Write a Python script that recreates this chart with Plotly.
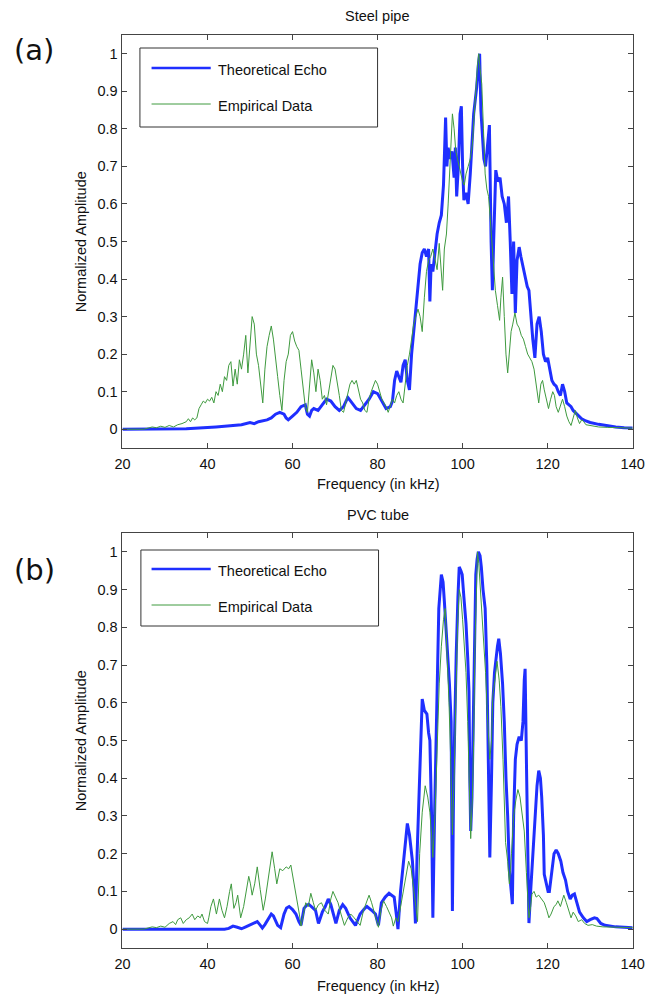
import plotly.graph_objects as go

# ---------------- DATA ----------------
# (a) Steel pipe
steel_theo_f = [20, 30, 35, 38, 40, 42, 44, 46, 48, 50, 51, 52, 53, 54, 55, 56, 57, 58, 58.5, 59, 60, 61, 62, 63, 63.5, 64, 64.5, 65, 66, 67, 68, 69, 70, 71, 72, 73, 74, 75, 76, 77, 78, 79, 80, 81, 82, 83, 83.5, 84, 84.5, 85, 85.5, 86, 86.5, 87, 87.5, 88, 88.5, 89, 89.5, 90, 90.5, 91, 91.5, 92, 92.3, 92.6, 93, 93.5, 94, 94.5, 95, 95.5, 96, 96.3, 96.6, 97, 97.5, 98, 98.3, 98.6, 99, 99.4, 99.7, 100, 100.3, 100.8, 101.3, 101.8, 102.3, 102.6, 103, 103.3, 103.7, 104, 104.3, 104.6, 105, 105.4, 105.8, 106.3, 106.7, 107, 107.3, 107.8, 108.3, 108.8, 109.3, 109.8, 110.3, 110.8, 111.2, 111.6, 112, 112.4, 112.8, 113.3, 113.7, 114.2, 114.7, 115.2, 115.6, 116, 116.5, 117, 117.5, 118, 118.5, 119, 119.5, 120, 120.5, 121, 121.5, 122, 122.5, 123, 123.5, 124, 124.5, 125, 125.5, 126, 127, 128, 129, 130, 132, 134, 136, 138, 140]
steel_theo_v = [0, 0, 0.001, 0.003, 0.004, 0.006, 0.008, 0.01, 0.012, 0.018, 0.015, 0.02, 0.022, 0.025, 0.03, 0.04, 0.045, 0.04, 0.03, 0.025, 0.035, 0.045, 0.06, 0.065, 0.04, 0.035, 0.05, 0.055, 0.05, 0.065, 0.08, 0.075, 0.06, 0.05, 0.06, 0.085, 0.07, 0.055, 0.05, 0.065, 0.08, 0.1, 0.095, 0.075, 0.055, 0.06, 0.075, 0.13, 0.155, 0.14, 0.125, 0.17, 0.185, 0.13, 0.105, 0.2, 0.26, 0.3, 0.37, 0.44, 0.47, 0.48, 0.46, 0.48, 0.34, 0.44, 0.42, 0.47, 0.52, 0.55, 0.57, 0.65, 0.83, 0.7, 0.75, 0.72, 0.74, 0.67, 0.75, 0.62, 0.7, 0.84, 0.86, 0.7, 0.61, 0.63, 0.6, 0.68, 0.78, 0.84, 0.88, 0.91, 0.97, 1.0, 0.85, 0.8, 0.72, 0.7, 0.76, 0.81, 0.5, 0.37, 0.5, 0.69, 0.66, 0.67, 0.62, 0.6, 0.55, 0.62, 0.5, 0.36, 0.5, 0.31, 0.45, 0.485, 0.46, 0.43, 0.4, 0.38, 0.37, 0.3, 0.24, 0.19, 0.28, 0.3, 0.26, 0.2, 0.18, 0.19, 0.16, 0.13, 0.12, 0.115, 0.1, 0.09, 0.12, 0.1, 0.07, 0.065, 0.06, 0.05, 0.04, 0.028, 0.022, 0.018, 0.013, 0.009, 0.006, 0.004, 0.003]

steel_emp_f = [20, 25, 26, 27, 28, 29, 30, 31, 32, 33, 34, 35, 35.5, 36, 36.5, 37, 37.5, 38, 38.5, 39, 39.5, 40, 40.5, 41, 41.5, 42, 42.5, 43, 43.5, 44, 44.5, 45, 45.5, 46, 46.5, 47, 47.5, 48, 48.5, 49, 49.5, 50, 50.5, 51, 51.5, 52, 52.5, 53, 53.5, 54, 54.5, 55, 55.5, 56, 56.5, 57, 57.5, 58, 58.5, 59, 59.5, 60, 60.5, 61, 61.5, 62, 62.5, 63, 63.5, 64, 64.5, 65, 65.5, 66, 66.5, 67, 67.5, 68, 68.5, 69, 69.5, 70, 70.5, 71, 71.5, 72, 72.5, 73, 73.5, 74, 74.5, 75, 75.5, 76, 76.5, 77, 77.5, 78, 78.5, 79, 79.5, 80, 80.5, 81, 81.5, 82, 82.5, 83, 83.5, 84, 84.5, 85, 85.5, 86, 86.5, 87, 87.5, 88, 88.5, 89, 89.5, 90, 90.5, 91, 91.5, 92, 92.5, 93, 93.5, 94, 94.5, 95, 95.3, 95.7, 96.2, 96.6, 97, 97.3, 97.6, 98, 98.4, 98.8, 99.2, 99.6, 100, 100.4, 100.8, 101.3, 101.8, 102.3, 102.7, 103.1, 103.5, 103.8, 104.1, 104.5, 104.9, 105.3, 105.7, 106.1, 106.5, 106.9, 107.3, 107.7, 108.2, 108.7, 109, 109.4, 109.8, 110.2, 110.6, 111, 111.4, 111.8, 112.3, 112.8, 113.3, 113.8, 114.3, 114.8, 115.3, 115.8, 116.3, 116.8, 117.3, 117.9, 118.4, 118.8, 119.2, 119.7, 120.2, 120.7, 121.2, 121.6, 122, 122.5, 123, 123.5, 124, 124.5, 125, 125.5, 126, 126.5, 127, 127.5, 128, 128.5, 129, 130, 131, 132, 134, 136, 138, 140]
steel_emp_v = [0, 0, 0.003, 0.006, 0.004, 0.008, 0.005, 0.01, 0.006, 0.012, 0.015, 0.02, 0.028, 0.02, 0.03, 0.025, 0.03, 0.055, 0.065, 0.075, 0.07, 0.08, 0.075, 0.085, 0.07, 0.1, 0.09, 0.12, 0.1, 0.14, 0.13, 0.17, 0.18, 0.115, 0.16, 0.12, 0.185, 0.16, 0.2, 0.25, 0.15, 0.22, 0.3, 0.28, 0.2, 0.17, 0.11, 0.07, 0.16, 0.22, 0.25, 0.275, 0.24, 0.18, 0.14, 0.09, 0.05, 0.13, 0.18, 0.2, 0.25, 0.26, 0.235, 0.22, 0.21, 0.16, 0.11, 0.06, 0.045, 0.12, 0.185, 0.15, 0.1, 0.16, 0.13, 0.08, 0.09, 0.065, 0.1, 0.14, 0.17, 0.16, 0.13, 0.09, 0.05, 0.045, 0.07, 0.1, 0.12, 0.13, 0.12, 0.13, 0.1, 0.08, 0.07, 0.05, 0.045, 0.08, 0.1, 0.115, 0.13, 0.12, 0.1, 0.08, 0.07, 0.06, 0.045, 0.06, 0.08, 0.07, 0.09, 0.1, 0.08, 0.07, 0.12, 0.17, 0.2, 0.24, 0.28, 0.3, 0.32, 0.3, 0.26, 0.35, 0.42, 0.45, 0.46, 0.48, 0.45, 0.425, 0.495, 0.42, 0.37, 0.48, 0.52, 0.6, 0.7, 0.78, 0.84, 0.8, 0.74, 0.72, 0.7, 0.68, 0.66, 0.65, 0.68, 0.7, 0.72, 0.76, 0.82, 0.9, 0.97, 1.0, 0.96, 0.92, 0.8, 0.68, 0.64, 0.62, 0.56, 0.5, 0.42, 0.37, 0.33, 0.29, 0.35, 0.405, 0.3, 0.2, 0.15, 0.22, 0.26, 0.28, 0.31, 0.28, 0.27, 0.25, 0.24, 0.22, 0.2, 0.19, 0.18, 0.16, 0.12, 0.07, 0.12, 0.13, 0.105, 0.08, 0.055, 0.08, 0.1, 0.09, 0.06, 0.045, 0.065, 0.08, 0.06, 0.035, 0.02, 0.01, 0.03, 0.05, 0.03, 0.015, 0.025, 0.02, 0.012, 0.01, 0.008, 0.006, 0.005, 0.004, 0.003, 0.003]

# (b) PVC tube
pvc_theo_f = [20, 44, 45, 46, 47, 48, 49, 50, 51, 51.7, 52.3, 52.9, 53.5, 54.2, 55, 55.5, 56, 56.5, 57.2, 58, 58.6, 59.2, 60, 60.8, 61.5, 62, 62.7, 63.3, 63.8, 64.5, 65.4, 66.1, 67, 67.7, 68.4, 69, 69.6, 70.2, 71, 71.8, 72.5, 73.5, 74.8, 75.9, 77, 77.5, 78.6, 79.5, 80.2, 80.9, 81.8, 82.7, 83.3, 83.9, 84.4, 84.8, 85.4, 85.9, 86.5, 87, 87.5, 88.2, 88.6, 88.9, 89.3, 89.6, 90, 90.5, 91, 91.6, 92, 92.3, 92.7, 93, 93.4, 93.9, 94.4, 95, 95.4, 95.7, 96.1, 96.4, 96.9, 97.3, 97.6, 97.9, 98.2, 98.5, 98.9, 99.2, 99.6, 99.9, 100.3, 100.8, 101.2, 101.5, 101.7, 101.9, 102.2, 102.6, 102.9, 103.1, 103.4, 103.7, 104.1, 104.4, 104.8, 105.3, 105.7, 106.1, 106.4, 106.8, 107.1, 107.5, 107.8, 108.2, 108.5, 108.9, 109.4, 109.8, 110.2, 110.6, 111, 111.4, 111.7, 112, 112.4, 112.8, 113.3, 113.8, 114.2, 114.5, 114.7, 115, 115.3, 115.6, 116, 116.5, 117, 117.5, 117.9, 118.3, 118.6, 119, 119.2, 119.7, 120.1, 120.4, 121, 121.5, 122, 122.5, 123.1, 123.6, 124.2, 124.7, 125.3, 125.8, 126.3, 126.8, 127.5, 128.4, 129.2, 130, 131, 131.6, 132.5, 133.5, 134.6, 136, 138, 140]
pvc_theo_v = [0, 0, 0.002, 0.008, 0.005, 0.001, 0.006, 0.012, 0.018, 0.02, 0.012, 0.003, 0.012, 0.025, 0.04, 0.035, 0.02, 0.01, 0.004, 0.04, 0.056, 0.06, 0.052, 0.04, 0.02, 0.01, 0.055, 0.063, 0.066, 0.06, 0.05, 0.015, 0.045, 0.06, 0.08, 0.065, 0.04, 0.015, 0.05, 0.065, 0.055, 0.03, 0.01, 0.04, 0.055, 0.06, 0.05, 0.04, 0.01, 0.07, 0.085, 0.095, 0.09, 0.085, 0.04, 0.0, 0.1, 0.16, 0.24, 0.28, 0.25, 0.18, 0.1, 0.015, 0.2, 0.3, 0.45, 0.61, 0.58, 0.57, 0.52, 0.5, 0.3, 0.03, 0.3, 0.6, 0.85, 0.94, 0.92, 0.87, 0.8, 0.72, 0.65, 0.55, 0.048, 0.4, 0.62, 0.73, 0.88, 0.96, 0.95, 0.94, 0.88, 0.81, 0.72, 0.63, 0.4, 0.26, 0.35, 0.6, 0.85, 0.94, 0.98, 1.0, 0.99, 0.96, 0.9, 0.85, 0.7, 0.45, 0.19, 0.4, 0.6, 0.68, 0.72, 0.75, 0.77, 0.73, 0.65, 0.55, 0.4, 0.3, 0.155, 0.1, 0.066, 0.3, 0.45, 0.49, 0.51, 0.5, 0.55, 0.66, 0.69, 0.45, 0.2, 0.016, 0.1, 0.2, 0.28, 0.38, 0.42, 0.4, 0.35, 0.25, 0.145, 0.12, 0.1, 0.1, 0.16, 0.2, 0.21, 0.2, 0.18, 0.15, 0.13, 0.1, 0.08, 0.09, 0.093, 0.07, 0.045, 0.03, 0.02, 0.025, 0.03, 0.028, 0.015, 0.01, 0.008, 0.006, 0.005, 0.004]

pvc_emp_f = [20, 25, 26, 27, 28, 29, 30, 31, 31.9, 32.5, 33, 33.7, 34.3, 35, 35.7, 36.4, 37, 37.7, 38.3, 38.7, 39.3, 40, 40.3, 40.8, 41.4, 42.1, 42.8, 43.4, 44, 44.6, 45.2, 45.6, 46.2, 46.7, 47.1, 47.8, 48.5, 49.2, 49.7, 50.1, 50.5, 51.1, 51.7, 52.4, 53.1, 53.6, 54, 54.6, 55.2, 55.8, 56.3, 57, 57.7, 58.5, 59.1, 59.6, 60.4, 61.1, 61.6, 62, 62.5, 63.1, 63.7, 64.3, 64.9, 65.4, 66.1, 66.8, 67.6, 68.4, 69, 69.5, 70.1, 70.7, 71.4, 72.2, 73, 73.7, 74.5, 75.2, 75.9, 76.7, 77.4, 78, 78.6, 79.1, 79.7, 80.2, 80.8, 81.4, 82.1, 82.8, 83.3, 83.7, 84.3, 84.8, 85.4, 85.9, 86.6, 87.3, 87.9, 88.5, 89, 89.4, 89.9, 90.5, 91.2, 91.8, 92.3, 92.7, 93, 93.5, 94, 94.5, 95, 95.5, 95.9, 96.3, 96.8, 97.2, 97.6, 98, 98.4, 98.8, 99.2, 99.6, 100, 100.4, 100.8, 101.2, 101.6, 101.9, 102.3, 102.6, 102.9, 103.2, 103.5, 103.8, 104.2, 104.6, 104.9, 105.4, 105.9, 106.4, 106.8, 107.1, 107.6, 108.1, 108.6, 109, 109.5, 110.1, 110.6, 111, 111.5, 112, 112.5, 113, 113.5, 114, 114.5, 115, 115.6, 116, 116.3, 116.8, 117.3, 117.9, 118.5, 119.2, 119.8, 120.3, 120.8, 121.5, 122, 122.4, 123, 123.8, 124.4, 125, 125.5, 126, 126.6, 127.2, 128, 128.7, 129.5, 130.5, 131.5, 133, 135, 137, 140]
pvc_emp_v = [0, 0, 0.003, 0.006, 0.004, 0.008, 0.005, 0.015, 0.02, 0.012, 0.025, 0.03, 0.015, 0.025, 0.03, 0.04, 0.025, 0.035, 0.03, 0.04, 0.02, 0.015, 0.03, 0.06, 0.08, 0.04, 0.08, 0.05, 0.03, 0.06, 0.1, 0.12, 0.055, 0.07, 0.09, 0.03, 0.06, 0.11, 0.14, 0.12, 0.09, 0.12, 0.165, 0.105, 0.05, 0.08, 0.11, 0.16, 0.205, 0.16, 0.12, 0.16, 0.155, 0.165, 0.16, 0.17, 0.12, 0.08, 0.04, 0.008, 0.04, 0.07, 0.06, 0.095, 0.07, 0.05, 0.065, 0.07, 0.05, 0.04, 0.08, 0.1, 0.085, 0.07, 0.04, 0.01, 0.03, 0.04, 0.03, 0.02, 0.01, 0.05, 0.07, 0.09, 0.07, 0.05, 0.03, 0.005, 0.05, 0.075, 0.06, 0.04, 0.03, 0.008, 0.03, 0.02, 0.06, 0.09, 0.14, 0.18, 0.16, 0.11, 0.06, 0.02, 0.2, 0.31, 0.38, 0.35, 0.31, 0.25, 0.19, 0.3, 0.5, 0.65, 0.75, 0.82, 0.85, 0.75, 0.6, 0.45, 0.25, 0.4, 0.6, 0.8, 0.9, 0.88, 0.82, 0.75, 0.68, 0.55, 0.4, 0.24, 0.35, 0.5, 0.75, 0.9, 1.0, 0.97, 0.9, 0.82, 0.77, 0.68, 0.55, 0.45, 0.5, 0.62, 0.66, 0.71, 0.66, 0.59, 0.45, 0.23, 0.18, 0.12, 0.2, 0.3, 0.34, 0.37, 0.35, 0.3, 0.26, 0.15, 0.03, 0.06, 0.093, 0.1, 0.085, 0.09, 0.08, 0.07, 0.05, 0.03, 0.04, 0.06, 0.065, 0.075, 0.06, 0.09, 0.07, 0.05, 0.03, 0.045, 0.035, 0.02, 0.025, 0.015, 0.01, 0.012, 0.008, 0.006, 0.005, 0.004, 0.004]

x_ticks = [20, 40, 60, 80, 100, 120, 140]
y_ticks = [0, 0.1, 0.2, 0.3, 0.4, 0.5, 0.6, 0.7, 0.8, 0.9, 1]
y_tick_text = ["0", "0.1", "0.2", "0.3", "0.4", "0.5", "0.6", "0.7", "0.8", "0.9", "1"]
series_names = ["Theoretical Echo", "Empirical Data"]
panel_titles = ["Steel pipe", "PVC tube"]
panel_tags = ["(a)", "(b)"]

# ---------------- LAYOUT HELPERS ----------------
W, H = 667, 996
def px(x):
    return x / W
def py(y):
    return 1 - y / H

BLUE = "#1f2fff"
GREEN = "#3f9a3f"
FONT = "Liberation Sans, Arial, sans-serif"
FS = 14.5

fig = go.Figure()
fig.add_trace(go.Scatter(x=steel_theo_f, y=steel_theo_v, mode="lines", line=dict(color=BLUE, width=3), name=series_names[0], xaxis="x", yaxis="y", showlegend=False))
fig.add_trace(go.Scatter(x=steel_emp_f, y=steel_emp_v, mode="lines", line=dict(color=GREEN, width=1), name=series_names[1], xaxis="x", yaxis="y", showlegend=False))
fig.add_trace(go.Scatter(x=pvc_theo_f, y=pvc_theo_v, mode="lines", line=dict(color=BLUE, width=3), name=series_names[0], xaxis="x2", yaxis="y2", showlegend=False))
fig.add_trace(go.Scatter(x=pvc_emp_f, y=pvc_emp_v, mode="lines", line=dict(color=GREEN, width=1), name=series_names[1], xaxis="x2", yaxis="y2", showlegend=False))

xdom = [px(118), px(644)]
ydom1 = [py(448), py(35)]
ydom2 = [py(948), py(533)]

axis_common = dict(showgrid=False, zeroline=False, showline=True, linecolor="#444", linewidth=1,
                   mirror="ticks", ticks="inside", ticklen=5, tickcolor="#444",
                   tickfont=dict(family=FONT, size=FS, color="#111"))

fig.update_layout(
    width=W, height=H, margin=dict(l=0, r=0, t=0, b=0),
    paper_bgcolor="white", plot_bgcolor="white", showlegend=False,
    xaxis=dict(domain=xdom, range=[20, 140], tickvals=x_ticks, anchor="y", ticklabelstandoff=3, **axis_common),
    yaxis=dict(domain=ydom1, range=[-0.05, 1.05], tickvals=y_ticks, ticktext=y_tick_text, anchor="x", ticklabelstandoff=1, **axis_common),
    xaxis2=dict(domain=xdom, range=[20, 140], tickvals=x_ticks, anchor="y2", ticklabelstandoff=3, **axis_common),
    yaxis2=dict(domain=ydom2, range=[-0.05, 1.05], tickvals=y_ticks, ticktext=y_tick_text, anchor="x2", ticklabelstandoff=1, **axis_common),
)

shapes = []
annotations = []
panels = [
    dict(top=35, bottom=448, leg=(136, 48, 381, 127), l1=68, l2=104, title_y=16, xlab_y=484, tag_y=50),
    dict(top=533, bottom=948, leg=(137, 550, 382, 626), l1=569, l2=605, title_y=515, xlab_y=986, tag_y=570),
]
for i, p in enumerate(panels):
    x0, y0, x1, y1 = p["leg"]
    shapes.append(dict(type="rect", xref="paper", yref="paper", x0=px(x0), x1=px(x1), y0=py(y1), y1=py(y0),
                       line=dict(color="#333", width=1), fillcolor="white", layer="above"))
    shapes.append(dict(type="line", xref="paper", yref="paper", x0=px(148), x1=px(209), y0=py(p["l1"]), y1=py(p["l1"]),
                       line=dict(color=BLUE, width=2.5), layer="above"))
    shapes.append(dict(type="line", xref="paper", yref="paper", x0=px(148), x1=px(209), y0=py(p["l2"]), y1=py(p["l2"]),
                       line=dict(color=GREEN, width=1), layer="above"))
    annotations.append(dict(text=series_names[0], x=px(214), y=py(p["l1"] + 2), xref="paper", yref="paper",
                            xanchor="left", yanchor="middle", showarrow=False, font=dict(family=FONT, size=FS, color="#111")))
    annotations.append(dict(text=series_names[1], x=px(214), y=py(p["l2"] + 2), xref="paper", yref="paper",
                            xanchor="left", yanchor="middle", showarrow=False, font=dict(family=FONT, size=FS, color="#111")))
    annotations.append(dict(text=panel_titles[i], x=px(381), y=py(p["title_y"]), xref="paper", yref="paper",
                            xanchor="center", yanchor="middle", showarrow=False, font=dict(family=FONT, size=FS, color="#111")))
    annotations.append(dict(text="Frequency (in kHz)", x=px(381), y=py(p["xlab_y"]), xref="paper", yref="paper",
                            xanchor="center", yanchor="middle", showarrow=False, font=dict(family=FONT, size=FS, color="#111")))
    annotations.append(dict(text="Normalized Amplitude", x=px(75), y=py((p["top"] + p["bottom"]) / 2), xref="paper", yref="paper",
                            xanchor="center", yanchor="middle", textangle=-90, showarrow=False, font=dict(family=FONT, size=FS, color="#111")))
    annotations.append(dict(text=panel_tags[i], x=px(4), y=py(p["tag_y"]), xref="paper", yref="paper",
                            xanchor="left", yanchor="middle", showarrow=False, font=dict(family="DejaVu Sans", size=29, color="#111")))

fig.update_layout(shapes=shapes, annotations=annotations)
fig.write_html("out.html")
